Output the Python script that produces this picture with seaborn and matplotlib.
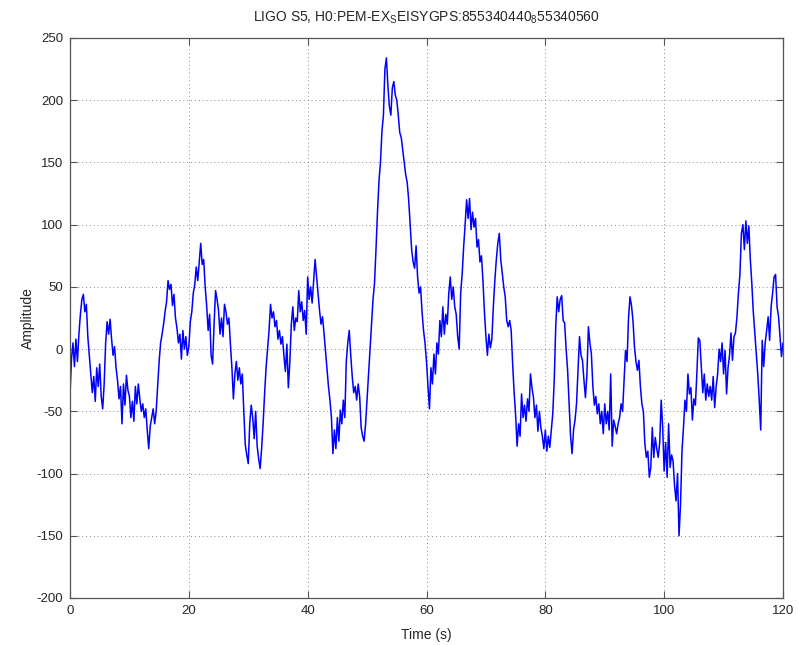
import numpy as np
import pandas as pd
import matplotlib
matplotlib.use("Agg")
import matplotlib.pyplot as plt
import seaborn as sns

# Seismometer channel, 0.25 s samples over 120 s
time_s = np.arange(0, 120.001, 0.25)
amplitude = [
    -37, -8, 5, -14, 8, -10, 12, 28,
    40, 44, 30, 36, 10, -5, -20, -35,
    -22, -42, -15, -30, -12, -38, -48, -28,
    5, 22, 12, 24, 8, -5, 2, -15,
    -25, -40, -30, -60, -28, -45, -21, -33,
    -38, -55, -42, -58, -30, -44, -28, -40,
    -50, -44, -55, -48, -65, -80, -62, -55,
    -48, -60, -50, -30, -10, 5, 12, 20,
    30, 38, 55, 48, 52, 35, 44, 25,
    17, 5, 12, -8, 15, 0, 10, -5,
    2, 22, 30, 45, 52, 66, 55, 70,
    85, 68, 72, 50, 35, 15, 28, -5,
    -12, 20, 47, 40, 31, 12, 25, 10,
    36, 30, 20, 25, 4, -15, -40, -20,
    -10, -25, -15, -28, -20, -50, -77, -85,
    -92, -60, -45, -55, -72, -50, -78, -88,
    -96, -80, -60, -36, -15, 0, 15, 36,
    25, 30, 18, 23, 8, 15, 4, 10,
    -5, -18, 4, -31, -10, 20, 34, 15,
    25, 22, 47, 30, 38, 23, 31, 12,
    58, 40, 50, 37, 55, 72, 58, 45,
    31, 20, 26, 13, -1, -15, -30, -41,
    -55, -84, -65, -80, -55, -74, -49, -60,
    -41, -55, -10, 5, 15, -5, -22, -35,
    -30, -41, -28, -38, -63, -70, -74, -60,
    -40, -20, 0, 20, 40, 53, 80, 110,
    135, 150, 175, 188, 225, 234, 212, 195,
    188, 210, 215, 204, 200, 188, 174, 170,
    160, 150, 140, 134, 120, 100, 80, 70,
    65, 83, 58, 45, 50, 30, 15, 5,
    -10, -30, -48, -15, -28, -4, -20, 5,
    -4, 23, 10, 34, 12, 28, 20, 45,
    58, 40, 50, 34, 28, 10, 0, 45,
    60, 82, 100, 120, 105, 121, 96, 110,
    98, 105, 82, 88, 70, 75, 55, 30,
    10, -5, 12, 1, 8, 34, 55, 72,
    85, 93, 72, 61, 50, 42, 23, 18,
    23, 15, -12, -35, -53, -78, -60, -70,
    -36, -55, -45, -58, -40, -50, -20, -31,
    -39, -55, -45, -66, -50, -63, -70, -80,
    -65, -82, -70, -79, -65, -52, -25, 18,
    42, 30, 40, 43, 23, 21, 0, -17,
    -44, -70, -84, -65, -57, -44, -17, 10,
    -5, -9, -25, -39, -20, 18, 5, -4,
    -30, -45, -38, -52, -44, -60, -50, -68,
    -44, -60, -50, -65, -20, -78, -57, -62,
    -68, -60, -55, -44, -50, -25, -1, -10,
    25, 42, 35, 23, 2, -10, -17, -9,
    -30, -44, -50, -76, -87, -82, -103, -95,
    -63, -87, -71, -80, -87, -75, -41, -63,
    -98, -75, -103, -60, -95, -85, -90, -110,
    -122, -100, -150, -125, -82, -63, -41, -50,
    -20, -36, -31, -57, -40, -45, -20, 9,
    7, -14, -35, -20, -41, -28, -38, -30,
    -41, -22, -47, -30, -20, 0, -10, 5,
    -20, -1, -36, -15, -5, 13, -9, 10,
    13, 26, 45, 60, 93, 100, 80, 103,
    85, 99, 72, 53, 30, 13, -4, -20,
    -41, -65, 7, -14, 5, 15, 26, 7,
    34, 45, 58, 60, 34, 26, 10, -6,
    5,
]
x_ticks = [0, 20, 40, 60, 80, 100, 120]
y_ticks = [-200, -150, -100, -50, 0, 50, 100, 150, 200, 250]

sns.set_style("white")
plt.rcParams["font.family"] = ["Liberation Sans", "DejaVu Sans"]

df = pd.DataFrame({"Time (s)": time_s, "Amplitude": amplitude})

fig = plt.figure(figsize=(7.98, 6.45), dpi=100)
ax = fig.add_axes([70 / 798, 1 - 598 / 645, (783 - 70) / 798, (598 - 38) / 645])

sns.lineplot(data=df, x="Time (s)", y="Amplitude", ax=ax,
             color="#0000ff", linewidth=1.1, estimator=None, sort=False)

ax.set_xlim(0, 120)
ax.set_ylim(-200, 250)
ax.set_xticks(x_ticks)
ax.set_yticks(y_ticks)
ax.set_xticklabels([str(v) for v in x_ticks], fontsize=9.5)
ax.set_yticklabels([str(v) for v in y_ticks], fontsize=9.5)

ax.grid(True, linestyle=(0, (1, 3)), color="#8a8a8a", linewidth=0.7)
ax.set_axisbelow(True)
ax.tick_params(direction="in", length=5, width=0.8, color="#555555",
               top=True, right=True, bottom=True, left=True, pad=5)
for s in ax.spines.values():
    s.set_visible(True)
    s.set_color("#555555")
    s.set_linewidth(0.9)

ax.set_xlabel("Time (s)", fontsize=10, labelpad=8)
ax.set_ylabel("Amplitude", fontsize=10, labelpad=1)
ax.set_title(r"LIGO S5, H0:PEM-EX$_{\mathregular{S}}$EISYGPS:855340440$_{\mathregular{8}}$55340560",
             fontsize=10, pad=12)

fig.savefig("out.png", dpi=100)
